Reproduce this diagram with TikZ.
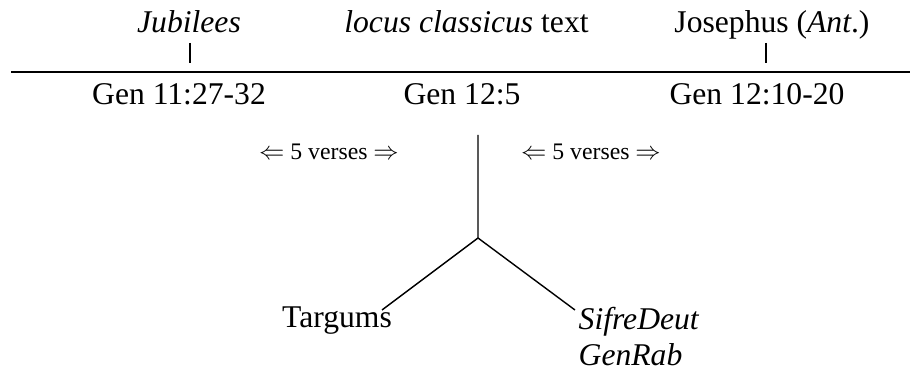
\documentclass[tikz,border=0pt]{standalone}
\usepackage{fontspec}
\setmainfont{Liberation Serif}
\usepackage{tikz}
\usetikzlibrary{positioning}

\begin{document}
\begin{tikzpicture}[line width=0.8pt,
  txt/.style={anchor=base,inner sep=0pt,font=\fontsize{18}{21}\selectfont},
  verses/.style={inner sep=0pt,font=\fontsize{13.5}{15}\selectfont}]
\useasboundingbox(0,0)rectangle(18.2,7.62);
% sources above the rule
\node[txt](jub)at(3.78,6.96){\textit{Jubilees}};
\node[txt](locus)at(9.33,6.96){\textit{locus classicus} text};
\node[txt](jos)at(15.44,6.96){Josephus (\textit{Ant}.)};
\coordinate(jubA)at(3.8,6.76);
\coordinate(jubB)at(3.8,6.36);
\coordinate(josA)at(15.32,6.76);
\coordinate(josB)at(15.32,6.36);
\draw(jubA)--(jubB);
\draw(josA)--(josB);
% the rule
\coordinate(ruleL)at(0.22,6.18);
\coordinate(ruleR)at(18.2,6.18);
\draw(ruleL)--(ruleR);
% passages below the rule
\node[txt](gena)at(3.58,5.52){Gen 11:27-32};
\node[txt](genb)at(9.24,5.52){Gen 12:5};
\node[txt](genc)at(15.14,5.52){Gen 12:10-20};
\node[verses](vl)at(6.58,4.58){$\Leftarrow$ 5 verses $\Rightarrow$};
\node[verses](vr)at(11.82,4.58){$\Leftarrow$ 5 verses $\Rightarrow$};
% the fork
\coordinate(stem)at(9.56,4.92);
\coordinate(fork)at(9.56,2.86);
\coordinate(forkL)at(7.64,1.42);
\coordinate(forkR)at(11.5,1.42);
\draw(stem)--(fork)--(forkL)
(fork)--(forkR);
\node[txt](targ)at(6.74,1.06){Targums};
\node[txt,anchor=base west](sifre)at(11.56,1.02){\textit{SifreDeut}};
\node[txt,anchor=base west](genrab)at(11.56,0.3){\textit{GenRab}};
\end{tikzpicture}
\end{document}
